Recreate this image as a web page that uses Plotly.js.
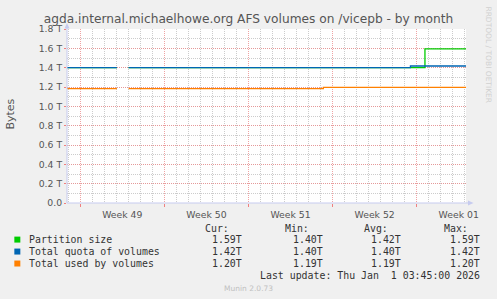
<!DOCTYPE html>
<html>
<head>
<meta charset="utf-8">
<script src="https://cdn.plot.ly/plotly-3.0.1.min.js"></script>
<style>html,body{margin:0;padding:0;background:#f0f0f0;}#chart{width:497px;height:299px;}</style>
</head>
<body>
<div id="chart"></div>
<script>
// ---- data (values in T = 1e12 bytes) ----
var partitionTimes  = ['2025-11-29 21:30','2025-12-04 01:15','2025-12-04 01:20','2025-12-05 00:30','2025-12-29 16:30','2026-01-02 02:30'];
var partitionValues = [1.40, 1.40, null, 1.40, 1.594, 1.594];
var quotaTimes      = ['2025-11-29 21:30','2025-12-04 01:15','2025-12-04 01:20','2025-12-05 00:30','2025-12-28 11:30','2026-01-02 02:30'];
var quotaValues     = [1.40, 1.40, null, 1.40, 1.417, 1.417];
var usedTimes       = ['2025-11-29 21:30','2025-12-04 01:15','2025-12-04 01:20','2025-12-05 00:30','2025-12-21 05:30','2026-01-02 02:30'];
var usedValues      = [1.184, 1.184, null, 1.184, 1.196, 1.196];

var seriesNames  = ['Partition size','Total quota of volumes','Total used by volumes'];
var seriesColors = ['#00cc00','#0066b3','#ff8000'];
var statHeaders  = ['Cur:','Min:','Avg:','Max:'];
var statRows = [
  ['1.59T','1.40T','1.42T','1.59T'],
  ['1.42T','1.40T','1.40T','1.42T'],
  ['1.20T','1.19T','1.19T','1.20T']
];
var yTickVals = [0,0.2,0.4,0.6,0.8,1.0,1.2,1.4,1.6,1.8];
var yTickText = ['0.0','0.2 T','0.4 T','0.6 T','0.8 T','1.0 T','1.2 T','1.4 T','1.6 T','1.8 T'];
var xRange = ['2025-11-29 21:30','2026-01-02 02:30'];
var lastUpdate = 'Last update: Thu Jan  1 03:45:00 2026';

// ---- layout helpers (pixel -> paper) ----
var W=497, H=299, L=66.7, R=466, T=28.5, B=203;
function xp(px){return (px-L)/(R-L);}
function yp(py){return (B-py)/(B-T);}

var traces = [
  {x:partitionTimes, y:partitionValues, name:seriesNames[0]},
  {x:quotaTimes, y:quotaValues, name:seriesNames[1]},
  {x:usedTimes, y:usedValues, name:seriesNames[2]}
].map(function(t,i){
  t.type='scatter'; t.mode='lines'; t.line={color:seriesColors[i], width:1.3, shape:'hv'};
  t.connectgaps=false; t.hoverinfo='skip'; t.showlegend=false; return t;
});

var mono = {family:'DejaVu Sans Mono', size:9.9, color:'#333'};
var ann = [];
// y axis title
ann.push({text:'Bytes', xref:'paper', yref:'paper', x:xp(10), y:yp(114), showarrow:false, textangle:-90,
  font:{family:'DejaVu Sans', size:11, color:'#555'}, xanchor:'center', yanchor:'middle'});
// right vertical credit
ann.push({text:'RRDTOOL / TOBI OETIKER', xref:'paper', yref:'paper', x:xp(489), y:yp(55), showarrow:false, textangle:90,
  font:{family:'DejaVu Sans', size:7.5, color:'#d0d0d0'}, xanchor:'center', yanchor:'middle'});
// stat headers
var headRight = [231,311,390,470];
statHeaders.forEach(function(h,i){
  ann.push({text:h, xref:'paper', yref:'paper', x:xp(headRight[i]), y:yp(228.5), showarrow:false, xanchor:'right', yanchor:'middle', font:mono});
});
var valRight = [244,325,403,482];
var rowY = [239.7,251.7,263.7];
seriesNames.forEach(function(n,r){
  ann.push({text:n, xref:'paper', yref:'paper', x:xp(26.5), y:yp(rowY[r]), showarrow:false, xanchor:'left', yanchor:'middle', font:mono});
  statRows[r].forEach(function(v,c){
    ann.push({text:v, xref:'paper', yref:'paper', x:xp(valRight[c]), y:yp(rowY[r]), showarrow:false, xanchor:'right', yanchor:'middle', font:mono});
  });
});
ann.push({text:lastUpdate.replace(/  /g,' &nbsp;'), xref:'paper', yref:'paper', x:xp(482), y:yp(275.7), showarrow:false, xanchor:'right', yanchor:'middle', font:mono});
ann.push({text:'Munin 2.0.73', xref:'paper', yref:'paper', x:xp(248), y:yp(288.5), showarrow:false, xanchor:'center', yanchor:'middle',
  font:{family:'DejaVu Sans', size:7.5, color:'#c0c0c0'}});

var shapes = [];
rowY.forEach(function(y,r){
  shapes.push({type:'rect', xref:'paper', yref:'paper', x0:xp(14), x1:xp(20), y0:yp(y+3), y1:yp(y-3),
    fillcolor:seriesColors[r], line:{width:0}});
});
var axisCol = '#c6cbef';
shapes.push({type:'line', xref:'paper', yref:'paper', x0:xp(66.7), x1:xp(66.7), y0:yp(203), y1:yp(25), line:{color:axisCol,width:1}, layer:'above'});
shapes.push({type:'line', xref:'paper', yref:'paper', x0:xp(66.7), x1:xp(470), y0:0, y1:0, line:{color:axisCol,width:1}, layer:'above'});
shapes.push({type:'path', xref:'paper', yref:'paper',
  path:'M'+xp(64.2)+','+yp(28)+' L'+xp(69.2)+','+yp(28)+' L'+xp(66.7)+','+yp(22.5)+' Z', fillcolor:axisCol, line:{width:0}, layer:'above'});
shapes.push({type:'path', xref:'paper', yref:'paper',
  path:'M'+xp(468)+','+yp(200.5)+' L'+xp(468)+','+yp(205.5)+' L'+xp(473.5)+','+yp(203)+' Z', fillcolor:axisCol, line:{width:0}, layer:'above'});

var majorGrid = 'rgba(235,140,140,0.8)';
var minorGrid = '#cccccc';
var layout = {
  width:W, height:H,
  paper_bgcolor:'#f0f0f0', plot_bgcolor:'#ffffff',
  margin:{l:L, r:W-R, t:T, b:H-B, pad:0},
  title:{text:'agda.internal.michaelhowe.org AFS volumes on /vicepb - by month', xref:'container', x:0.5, xanchor:'center',
    yref:'container', y:1-19/H, yanchor:'middle', font:{family:'DejaVu Sans', size:12.2, color:'#555'}},
  xaxis:{type:'date', range:xRange, tick0:'2025-12-01', dtick:7*86400000, tickformat:'Week %V', ticklabelmode:'period',
    showgrid:true, gridcolor:majorGrid, griddash:'1px,1px', gridwidth:1,
    minor:{tick0:'2025-12-01', dtick:86400000, showgrid:true, gridcolor:minorGrid, griddash:'1px,1px', gridwidth:1},
    ticks:'outside', ticklen:3, tickcolor:'#f08080', showline:false, zeroline:false,
    tickfont:{family:'DejaVu Sans', size:9.3, color:'#555'}, fixedrange:true},
  yaxis:{range:[0,1.8], tickvals:yTickVals, ticktext:yTickText,
    showgrid:true, gridcolor:majorGrid, griddash:'1px,1px', gridwidth:1,
    minor:{dtick:0.1, tick0:0, showgrid:true, gridcolor:minorGrid, griddash:'1px,1px', gridwidth:1},
    ticks:'outside', ticklen:2, tickcolor:'#f08080', showline:false, zeroline:false,
    tickfont:{family:'DejaVu Sans', size:9.3, color:'#555'}, fixedrange:true},
  annotations:ann, shapes:shapes, showlegend:false
};
Plotly.newPlot('chart', traces, layout, {displayModeBar:false, staticPlot:true});
</script>
</body>
</html>
